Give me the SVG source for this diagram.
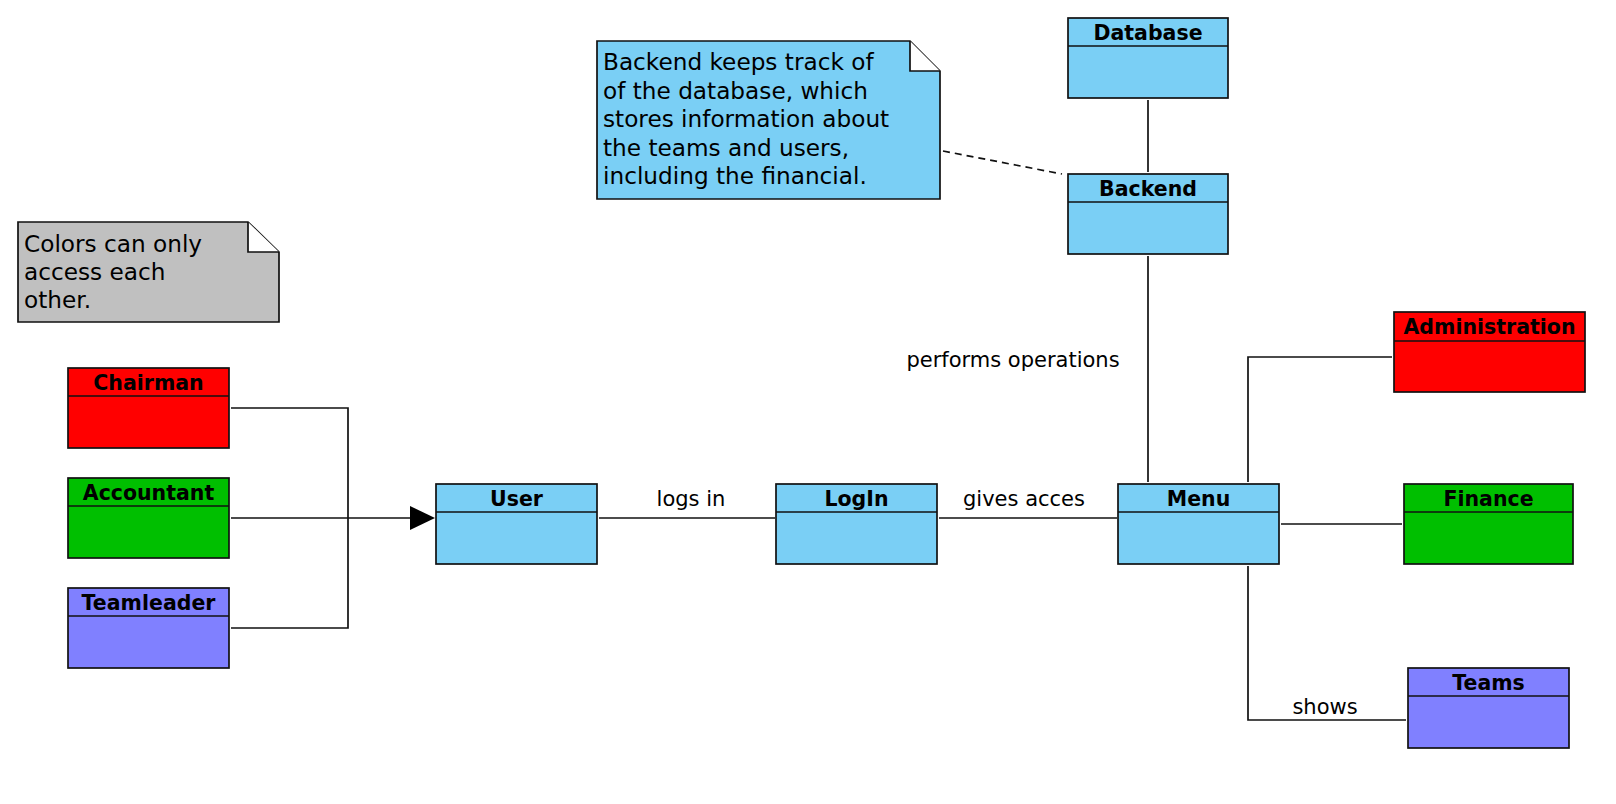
<svg xmlns="http://www.w3.org/2000/svg" width="1616" height="804" viewBox="0 0 1616 804">
<style>
.box{stroke:#111;stroke-width:1.7}
.div{stroke:#111;stroke-width:1.7}
.blue{fill:#7acff5}.red{fill:#ff0000}.green{fill:#00bf00}.purple{fill:#8080ff}
.title{font-family:"DejaVu Sans",sans-serif;font-weight:bold;font-size:20.5px;text-anchor:middle;fill:#000}
.lbl{font-family:"DejaVu Sans",sans-serif;font-size:21px;fill:#000}
.note{font-family:"DejaVu Sans",sans-serif;font-size:23.2px;fill:#000}
.ln{fill:none;stroke:#111;stroke-width:1.7}
</style>
<rect width="1616" height="804" fill="#fff"/>
<g id="connectors">
<path class="ln" d="M231 408 H348 V628 H231"/>
<path class="ln" d="M231 518 H348"/>
<path class="ln" d="M348 518 H412" stroke-width="2.6"/>
<path d="M435 518 L410 506 L410 530 Z" fill="#000"/>
<path class="ln" d="M599 518 H775"/>
<path class="ln" d="M939 518 H1117"/>
<path class="ln" d="M1148 100 V172"/>
<path class="ln" d="M1148 256 V482"/>
<path class="ln" d="M943 151 L1062 174" stroke-dasharray="7,5"/>
<path class="ln" d="M1248 482 V357 H1392"/>
<path class="ln" d="M1281 524 H1402"/>
<path class="ln" d="M1248 566 V720 H1406"/>
<text class="lbl" x="691" y="506" text-anchor="middle">logs in</text>
<text class="lbl" x="1024" y="506" text-anchor="middle">gives acces</text>
<text class="lbl" x="1013" y="367" text-anchor="middle">performs operations</text>
<text class="lbl" x="1325" y="714" text-anchor="middle">shows</text>
</g>
<g id="note-colors">
<path d="M18 222 H248 L279 252 V322 H18 Z" fill="#c0c0c0" class="box"/>
<path d="M248 222 V252 H279" fill="#fff" class="box"/>
<text class="note" x="24" y="252">Colors can only</text>
<text class="note" x="24" y="280">access each</text>
<text class="note" x="24" y="308">other.</text>
</g>
<g id="note-backend">
<path d="M597 41 H910 L940 71 V199 H597 Z" fill="#7acff5" class="box"/>
<path d="M910 41 V71 H940" fill="#fff" class="box"/>
<text class="note" x="603" y="70">Backend keeps track of</text>
<text class="note" x="603" y="98.5">of the database, which</text>
<text class="note" x="603" y="127">stores information about</text>
<text class="note" x="603" y="155.5">the teams and users,</text>
<text class="note" x="603" y="184">including the financial.</text>
</g>
<g id="Chairman">
<rect x="68" y="368" width="161" height="80" class="box red"/>
<line x1="68" y1="396" x2="229" y2="396" class="div"/>
<text class="title" x="148.5" y="390">Chairman</text>
</g>
<g id="Accountant">
<rect x="68" y="478" width="161" height="80" class="box green"/>
<line x1="68" y1="506" x2="229" y2="506" class="div"/>
<text class="title" x="148.5" y="500">Accountant</text>
</g>
<g id="Teamleader">
<rect x="68" y="588" width="161" height="80" class="box purple"/>
<line x1="68" y1="616" x2="229" y2="616" class="div"/>
<text class="title" x="148.5" y="610">Teamleader</text>
</g>
<g id="User">
<rect x="436" y="484" width="161" height="80" class="box blue"/>
<line x1="436" y1="512" x2="597" y2="512" class="div"/>
<text class="title" x="516.5" y="506">User</text>
</g>
<g id="LogIn">
<rect x="776" y="484" width="161" height="80" class="box blue"/>
<line x1="776" y1="512" x2="937" y2="512" class="div"/>
<text class="title" x="856.5" y="506">LogIn</text>
</g>
<g id="Menu">
<rect x="1118" y="484" width="161" height="80" class="box blue"/>
<line x1="1118" y1="512" x2="1279" y2="512" class="div"/>
<text class="title" x="1198.5" y="506">Menu</text>
</g>
<g id="Database">
<rect x="1068" y="18" width="160" height="80" class="box blue"/>
<line x1="1068" y1="46" x2="1228" y2="46" class="div"/>
<text class="title" x="1148" y="40">Database</text>
</g>
<g id="Backend">
<rect x="1068" y="174" width="160" height="80" class="box blue"/>
<line x1="1068" y1="202" x2="1228" y2="202" class="div"/>
<text class="title" x="1148" y="196">Backend</text>
</g>
<g id="Administration">
<rect x="1394" y="312" width="191" height="80" class="box red"/>
<line x1="1394" y1="341" x2="1585" y2="341" class="div"/>
<text class="title" x="1489.5" y="334">Administration</text>
</g>
<g id="Finance">
<rect x="1404" y="484" width="169" height="80" class="box green"/>
<line x1="1404" y1="512" x2="1573" y2="512" class="div"/>
<text class="title" x="1488.5" y="506">Finance</text>
</g>
<g id="Teams">
<rect x="1408" y="668" width="161" height="80" class="box purple"/>
<line x1="1408" y1="696" x2="1569" y2="696" class="div"/>
<text class="title" x="1488.5" y="690">Teams</text>
</g>
</svg>
